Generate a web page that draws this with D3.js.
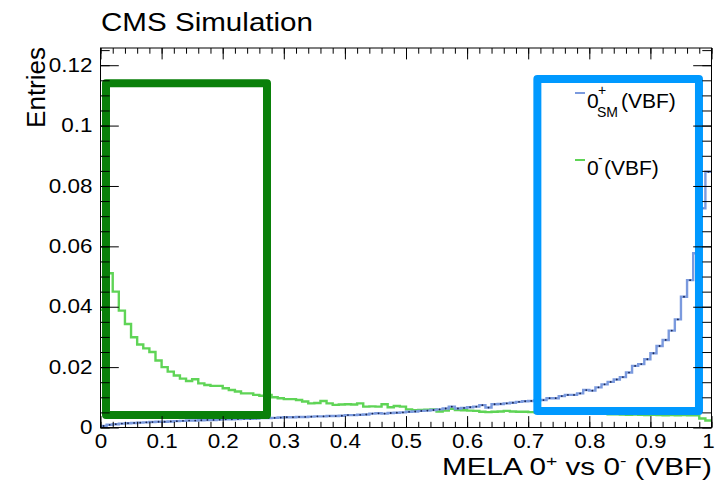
<!DOCTYPE html>
<html><head><meta charset="utf-8">
<script src="https://cdn.jsdelivr.net/npm/d3@7"></script>
<style>
body{margin:0;background:#fff}
svg{display:block}
text{font-family:"Liberation Sans",Arial,Helvetica,sans-serif;fill:#000}
</style>
</head><body>
<svg id="c" width="716" height="485"></svg>
<script>
// ---------- data ----------
const nBins = 100, xMin = 0, xMax = 1;
const seriesNames = ["0+SM(VBF)", "0-(VBF)"];
// 0+ SM (VBF) — blue
const sm = [
0.0005,0.0009,0.0011,0.0013,0.0014,0.0015,0.0016,0.0017,0.0018,0.0019,
0.0019,0.0020,0.0021,0.0022,0.0023,0.0023,0.0024,0.0025,0.0025,0.0026,
0.0027,0.0027,0.0028,0.0029,0.0029,0.0030,0.0031,0.0031,0.0032,0.0033,
0.0034,0.0034,0.0035,0.0035,0.0036,0.0037,0.0037,0.0038,0.0038,0.0039,
0.0041,0.0041,0.0042,0.0043,0.0046,0.0047,0.0046,0.0048,0.0049,0.0050,
0.0052,0.0053,0.0055,0.0056,0.0058,0.0060,0.0063,0.0069,0.0063,0.0065,
0.0067,0.0069,0.0074,0.0066,0.0077,0.0078,0.0080,0.0082,0.0085,0.0087,
0.0088,0.0090,0.0091,0.0097,0.0097,0.0104,0.0108,0.0108,0.0113,0.0124,
0.0122,0.0133,0.0143,0.0151,0.0159,0.0167,0.0182,0.0204,0.0210,0.0226,
0.0246,0.0270,0.0290,0.0321,0.0358,0.0433,0.0488,0.0577,0.0726,0.0847];
// 0- (VBF) — green
const ps = [
0.0390,0.0511,0.0450,0.0387,0.0343,0.0299,0.0275,0.0262,0.0250,0.0222,
0.0200,0.0185,0.0172,0.0162,0.0154,0.0160,0.0146,0.0141,0.0138,0.0138,
0.0130,0.0124,0.0119,0.0113,0.0113,0.0108,0.0105,0.0108,0.0100,0.0097,
0.0094,0.0094,0.0091,0.0086,0.0080,0.0081,0.0088,0.0080,0.0075,0.0076,
0.0077,0.0076,0.0080,0.0069,0.0070,0.0069,0.0077,0.0067,0.0071,0.0069,
0.0060,0.0057,0.0058,0.0059,0.0060,0.0053,0.0056,0.0062,0.0058,0.0057,
0.0056,0.0055,0.0052,0.0051,0.0052,0.0053,0.0055,0.0053,0.0052,0.0052,
0.0051,0.0050,0.0050,0.0049,0.0049,0.0048,0.0049,0.0047,0.0047,0.0046,
0.0046,0.0045,0.0045,0.0044,0.0044,0.0043,0.0042,0.0043,0.0042,0.0041,
0.0042,0.0041,0.0040,0.0041,0.0040,0.0041,0.0040,0.0040,0.0030,0.0023];
const xTickValues = [0,0.1,0.2,0.3,0.4,0.5,0.6,0.7,0.8,0.9,1];
const xTickLabels = ["0","0.1","0.2","0.3","0.4","0.5","0.6","0.7","0.8","0.9","1"];
const yTickValues = [0,0.02,0.04,0.06,0.08,0.1,0.12];
const yTickLabels = ["0","0.02","0.04","0.06","0.08","0.1","0.12"];
// highlighted regions, in data units [x0, x1, y0, y1]
const greenRegion = [0.009, 0.2725, 0.0041, 0.1140];
const blueRegion  = [0.715, 0.9795, 0.0055, 0.1154];

// ---------- layout ----------
const P = {l:100.5, r:711.5, t:48, b:427.5};
const x = d3.scaleLinear().domain([xMin,xMax]).range([P.l,P.r]);
const y = d3.scaleLinear().domain([0,0.1257]).range([P.b,P.t]);
const svg = d3.select('#c');
const FONT = '"Liberation Sans",Arial,Helvetica,sans-serif';

svg.append('defs').append('clipPath').attr('id','clip')
  .append('rect').attr('x',P.l).attr('y',P.t).attr('width',P.r-P.l).attr('height',P.b-P.t);

const binW = (xMax-xMin)/nBins;
const stepLine = d3.line().x(d=>x(d[0])).y(d=>y(d[1])).curve(d3.curveStepAfter);
function pts(vals){
  const p = vals.map((v,i)=>[xMin+i*binW, v]);
  p.push([xMax, vals[vals.length-1]]);
  return p;
}
const plot = svg.append('g').attr('clip-path','url(#clip)');
plot.append('path').attr('d',stepLine(pts(ps)))
  .attr('fill','none').attr('stroke','#5fd456').attr('stroke-width',2.4);
plot.append('path').attr('d',stepLine(pts(sm)))
  .attr('fill','none').attr('stroke','#7b9ade').attr('stroke-width',2.4);
plot.append('g').selectAll('circle').data(sm).join('circle')
  .attr('cx',(d,i)=>x(xMin+(i+0.5)*binW)).attr('cy',d=>y(d)).attr('r',0.9).attr('fill','#1a2550');

// boxes
function box(r,color){
  svg.append('rect')
    .attr('x',x(r[0])).attr('y',y(r[3]))
    .attr('width',x(r[1])-x(r[0])).attr('height',y(r[2])-y(r[3]))
    .attr('fill','none').attr('stroke',color).attr('stroke-width',8)
    .attr('stroke-linejoin','round');
}
box(greenRegion,'#0a800a');
box(blueRegion,'#0099ff');

// axes
function clean(g){ g.select('.domain').remove(); g.selectAll('line').attr('stroke','#000'); }
const xMinor = d3.range(0,1.0001,0.02);
const yMinor = d3.range(0,0.12551,0.005);
const SX = 1.15;

const gB = svg.append('g').attr('transform',`translate(0,${P.b})`)
  .call(d3.axisBottom(x).tickValues(xTickValues).tickFormat((d,i)=>xTickLabels[i])
    .tickSizeInner(-11.4).tickSizeOuter(0).tickPadding(7)).call(clean);
gB.attr('font-size',19.5).attr('font-family',FONT);
gB.selectAll('text').attr('transform',`scale(${SX},1)`);
gB.selectAll('text').filter((d,i)=>i===xTickValues.length-1).attr('dx',-3);
svg.append('g').attr('transform',`translate(0,${P.b})`)
  .call(d3.axisBottom(x).tickValues(xMinor).tickFormat('').tickSizeInner(-5.7).tickSizeOuter(0)).call(clean);
svg.append('g').attr('transform',`translate(0,${P.t})`)
  .call(d3.axisTop(x).tickValues(xTickValues).tickFormat('').tickSizeInner(-11.4).tickSizeOuter(0)).call(clean);
svg.append('g').attr('transform',`translate(0,${P.t})`)
  .call(d3.axisTop(x).tickValues(xMinor).tickFormat('').tickSizeInner(-5.7).tickSizeOuter(0)).call(clean);

const gL = svg.append('g').attr('transform',`translate(${P.l},0)`)
  .call(d3.axisLeft(y).tickValues(yTickValues).tickFormat((d,i)=>yTickLabels[i])
    .tickSizeInner(-18.3).tickSizeOuter(0).tickPadding(7)).call(clean);
gL.attr('font-size',19.5).attr('font-family',FONT);
gL.selectAll('text').attr('transform',`scale(${SX},1)`);
svg.append('g').attr('transform',`translate(${P.l},0)`)
  .call(d3.axisLeft(y).tickValues(yMinor).tickFormat('').tickSizeInner(-9.2).tickSizeOuter(0)).call(clean);
svg.append('g').attr('transform',`translate(${P.r},0)`)
  .call(d3.axisRight(y).tickValues(yTickValues).tickFormat('').tickSizeInner(-18.3).tickSizeOuter(0)).call(clean);
svg.append('g').attr('transform',`translate(${P.r},0)`)
  .call(d3.axisRight(y).tickValues(yMinor).tickFormat('').tickSizeInner(-9.2).tickSizeOuter(0)).call(clean);

// frame
svg.append('rect').attr('x',P.l).attr('y',P.t).attr('width',P.r-P.l).attr('height',P.b-P.t)
  .attr('fill','none').attr('stroke','#000').attr('stroke-width',1);

// title
svg.append('g').attr('transform','translate(101,30.5) scale(1.16,1)')
  .append('text').attr('font-size',25.5).text('CMS Simulation');

// y title
svg.append('text').attr('transform','translate(45,47) rotate(-90)')
  .attr('text-anchor','end').attr('font-size',26).text('Entries');

// x title
const xt = svg.append('g').attr('transform','translate(712,475) scale(1.29,1)')
  .append('text').attr('text-anchor','end').attr('font-size',23);
xt.append('tspan').text('MELA 0');
xt.append('tspan').attr('font-size',15).attr('dy',-9).text('+');
xt.append('tspan').attr('dy',9).text(' vs 0');
xt.append('tspan').attr('font-size',15).attr('dy',-9).text('-');
xt.append('tspan').attr('dy',9).text(' (VBF)');

// legend
const lg = svg.append('g');
lg.append('line').attr('x1',575).attr('x2',585).attr('y1',93).attr('y2',93).attr('stroke','#7b9ade').attr('stroke-width',2);
lg.append('text').attr('x',587).attr('y',108).attr('font-size',21).text('0');
lg.append('text').attr('x',598).attr('y',95).attr('font-size',14).text('+');
lg.append('text').attr('x',597).attr('y',116.5).attr('font-size',14).text('SM');
lg.append('text').attr('x',621).attr('y',108).attr('font-size',21).text('(VBF)');
lg.append('line').attr('x1',575).attr('x2',585).attr('y1',160).attr('y2',160).attr('stroke','#5fd456').attr('stroke-width',2);
lg.append('text').attr('x',587).attr('y',175).attr('font-size',21).text('0');
lg.append('text').attr('x',598).attr('y',163).attr('font-size',14).text('-');
lg.append('text').attr('x',604).attr('y',175).attr('font-size',21).text('(VBF)');
</script>
</body></html>
